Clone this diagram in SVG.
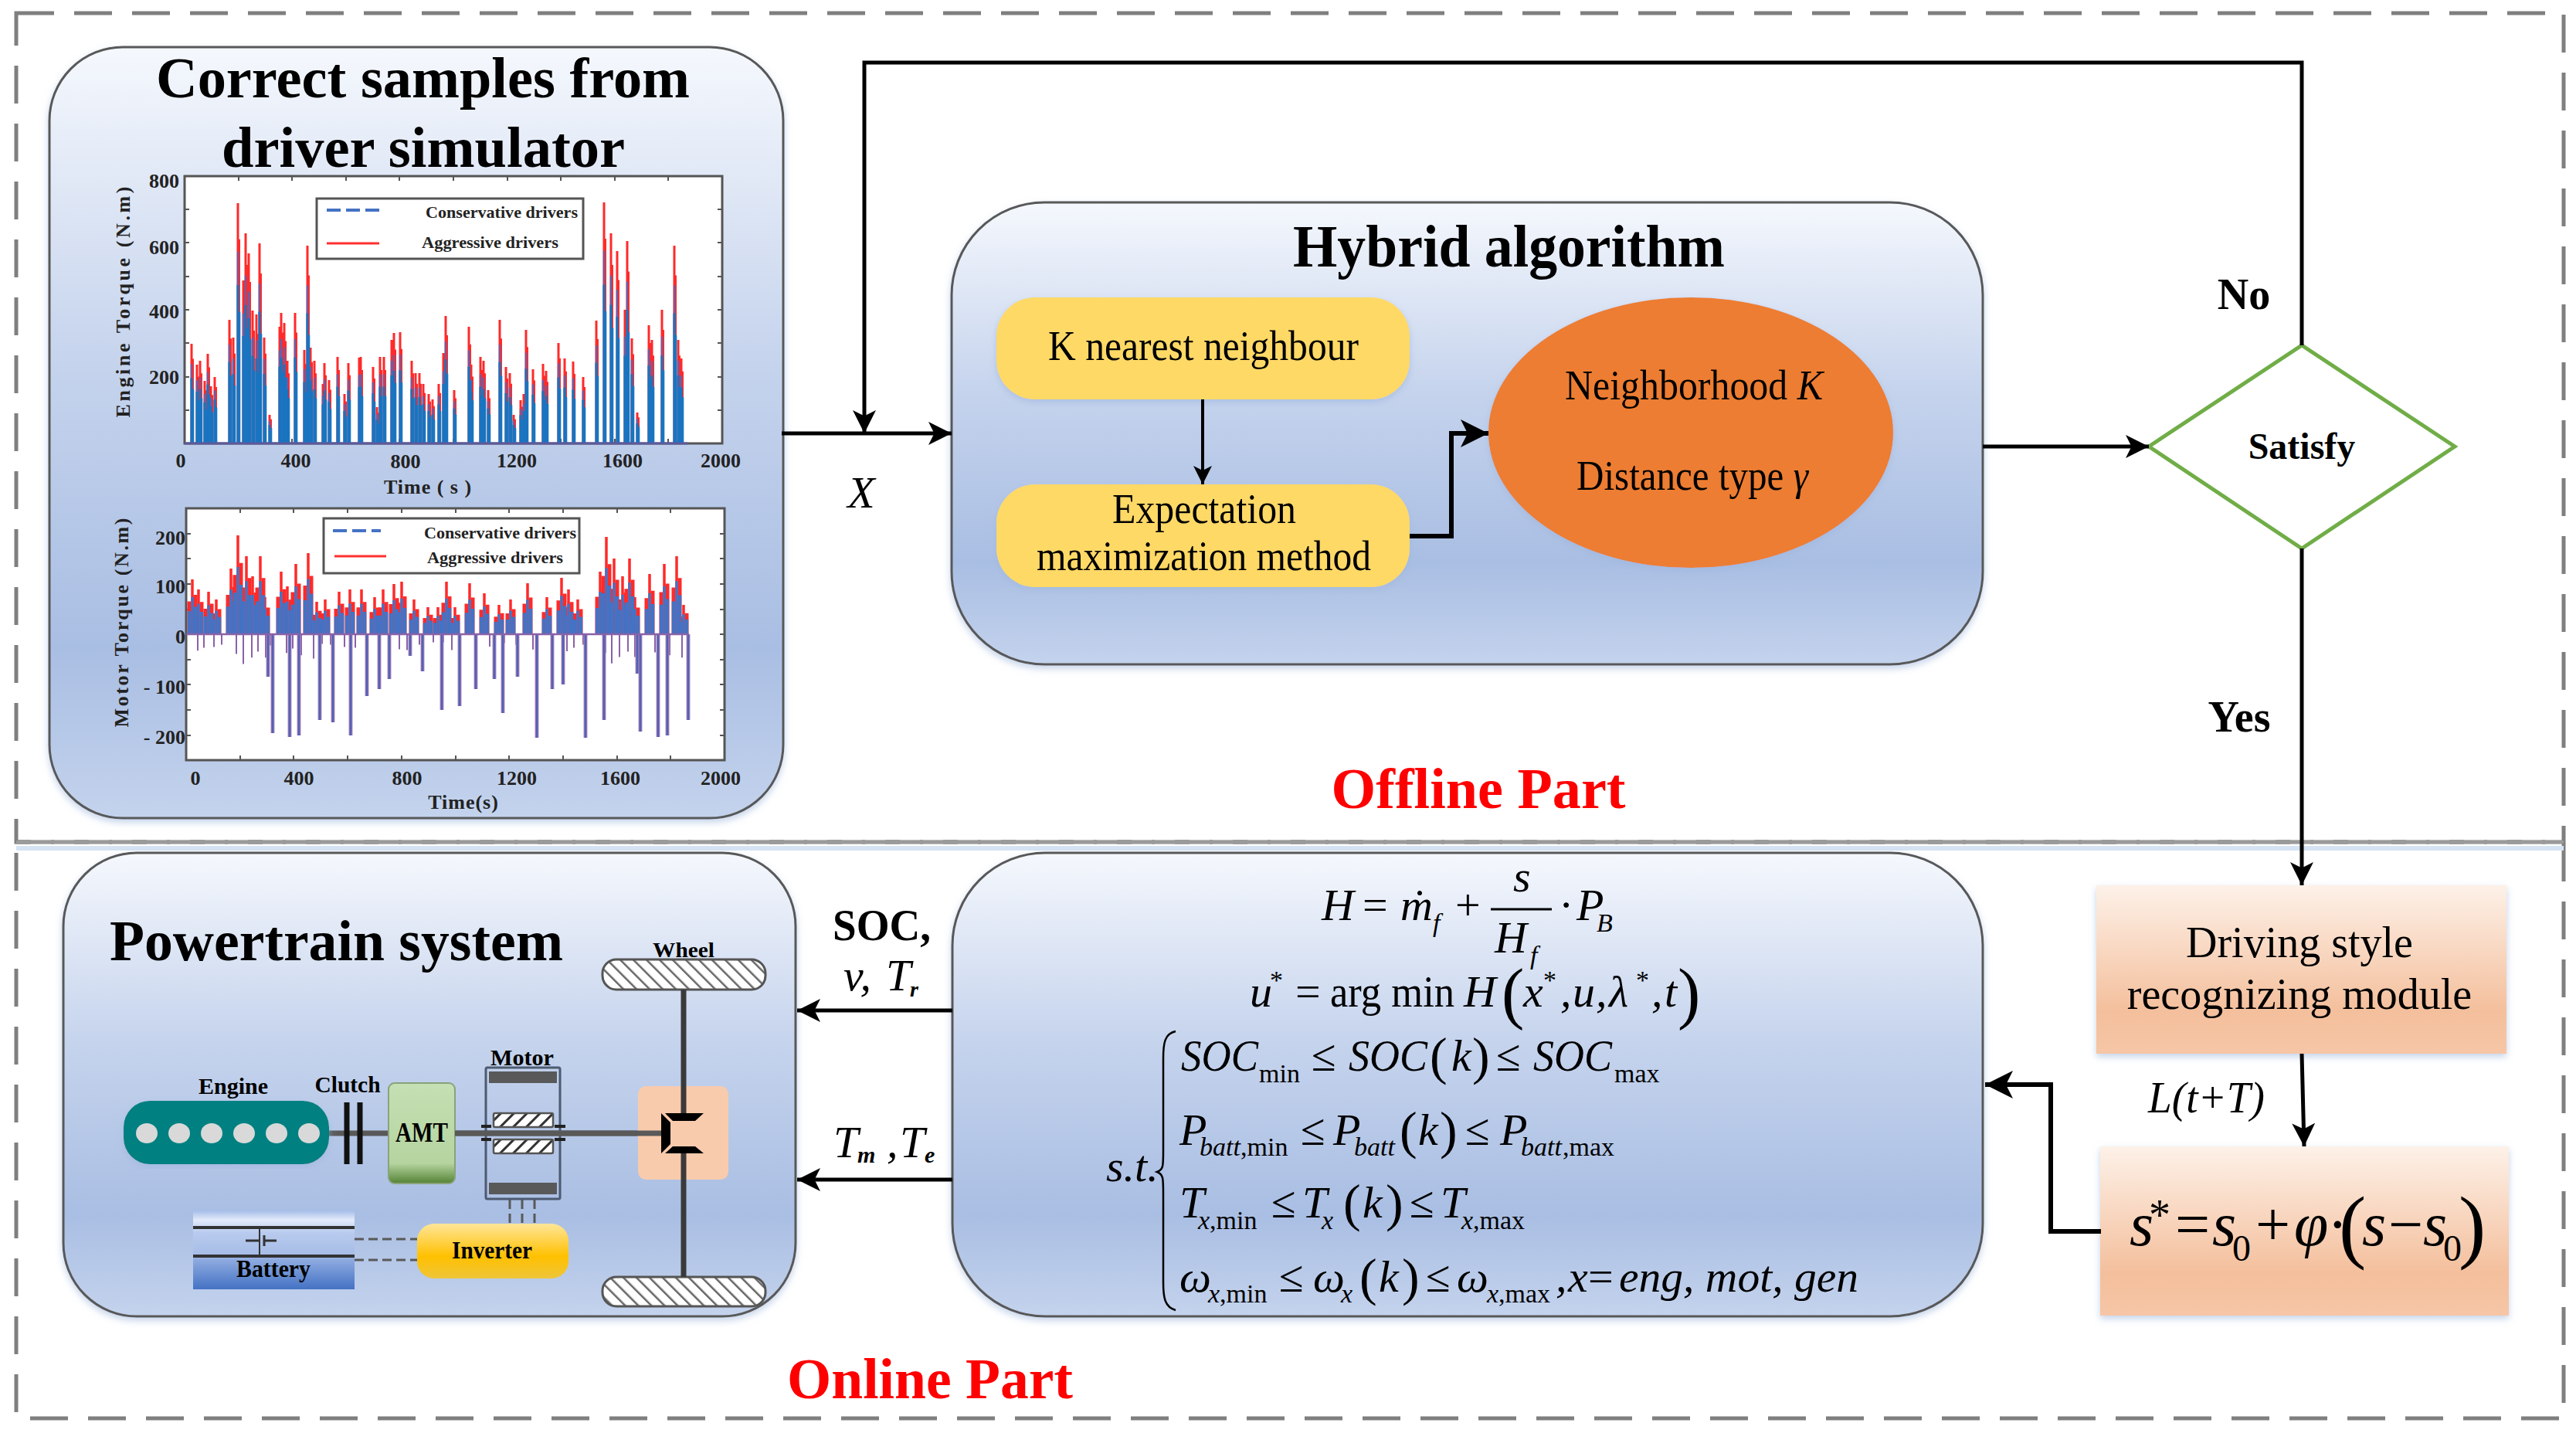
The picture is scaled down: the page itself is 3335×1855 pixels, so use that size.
<svg xmlns="http://www.w3.org/2000/svg" width="3335" height="1855" viewBox="0 0 3335 1855">
<style>
text{font-family:"Liberation Serif","Times New Roman",serif;fill:#000}
.b{font-weight:700}
.i{font-style:italic}
.panel{fill:url(#pg);stroke:#595959;stroke-width:3;filter:url(#sh)}
.ybox{fill:#ffd966;filter:url(#sh)}
.obox{fill:url(#og);filter:url(#sh)}
.frame{fill:none;stroke:#7f7f7f;stroke-width:5;stroke-dasharray:49 26}
.ln{fill:none;stroke:#000;stroke-width:5}
.ln2{fill:none;stroke:#000;stroke-width:6}
.plot{fill:#fff;stroke:#555;stroke-width:3}
.tick{fill:none;stroke:#555;stroke-width:2}
.leg{fill:#fff;stroke:#555;stroke-width:3}
.t{font-weight:700;font-size:26px;fill:#222}
.t text{fill:#222}
.lg{font-weight:700;font-size:22px;fill:#222}
.f{font-style:italic;font-size:58px}
.fu{font-size:58px}
.s{font-style:italic;font-size:34px}
.su{font-size:34px}
.p{font-size:88px}
.q{font-size:68px}
.wire{fill:none;stroke:#595959;stroke-width:3;stroke-dasharray:12 6}
.red{fill:none;stroke:#ff2a2a}
.blu{fill:none;stroke:#1a74c0}
.mbl{fill:none;stroke:#4472c4}
</style>
<defs>
<linearGradient id="pg" x1="0" y1="0" x2="0" y2="1"><stop offset="0" stop-color="#f5f8fd"/><stop offset=".4" stop-color="#c6d4ed"/><stop offset=".78" stop-color="#a9bee3"/><stop offset="1" stop-color="#c4d3ed"/></linearGradient>
<linearGradient id="og" x1="0" y1="0" x2="0" y2="1"><stop offset="0" stop-color="#fdf1e8"/><stop offset=".75" stop-color="#f4bf9c"/><stop offset="1" stop-color="#f6c6a6"/></linearGradient>
<linearGradient id="amt" x1="0" y1="0" x2="0" y2="1"><stop offset="0" stop-color="#c5e0b4"/><stop offset=".8" stop-color="#b5d49f"/><stop offset="1" stop-color="#548235"/></linearGradient>
<linearGradient id="inv" x1="0" y1="0" x2="0" y2="1"><stop offset="0" stop-color="#ffe699"/><stop offset=".6" stop-color="#ffc000"/><stop offset="1" stop-color="#eec53a"/></linearGradient>
<linearGradient id="bat" x1="0" y1="0" x2="0" y2="1"><stop offset="0" stop-color="#a5bde8"/><stop offset=".12" stop-color="#e3eafa"/><stop offset=".28" stop-color="#b9cbee"/><stop offset=".58" stop-color="#a5bce6"/><stop offset=".62" stop-color="#8fabe0"/><stop offset="1" stop-color="#4472c4"/></linearGradient>
<pattern id="h1" width="12" height="12" patternUnits="userSpaceOnUse" patternTransform="rotate(-45)"><rect width="12" height="12" fill="#fff"/><rect width="2.5" height="12" fill="#666"/></pattern>
<pattern id="h2" width="12" height="12" patternUnits="userSpaceOnUse" patternTransform="rotate(45)"><rect width="12" height="12" fill="#fff"/><rect width="3" height="12" fill="#333"/></pattern>
<filter id="sh" x="-5%" y="-5%" width="110%" height="112%"><feDropShadow dx="0" dy="4" stdDeviation="5" flood-color="#9db5dc" flood-opacity=".6"/></filter>
<marker id="a" viewBox="0 0 12 12" refX="12" refY="6" markerWidth="6" markerHeight="6" markerUnits="strokeWidth" orient="auto"><path d="M0 0L12 6L0 12L3 6Z" fill="#000"/></marker>
<path id="eng" d="M248 575V445M255 575V472M259 575V467M265 575V493M269 575V458M273 575V500M278 575V488M297 575V414M302 575V437M308 575V263M315 575V363M318 575V302M322 575V328M327 575V402M332 575V407M336 575V315M342 575V437M349 575V537M362 575V423M364 575V405M368 575V418M372 575V467M382 575V405M394 575V453M398 575V318M402 575V450M407 575V467M418 575V497M420 575V470M426 575V492M437 575V462M446 575V510M451 575V470M465 575V463M467 575V462M483 575V475M488 575V527M492 575V462M497 575V462M507 575V440M510 575V431M518 575V430M533 575V467M538 575V483M543 575V483M548 575V497M555 575V510M560 575V517M568 575V497M574 575V457M577 575V409M588 575V505M607 575V423M610 575V472M622 575V462M626 575V467M632 575V505M647 575V414M655 575V475M660 575V483M665 575V537M674 575V518M678 575V510M681 575V427M690 575V478M703 575V471M707 575V480M723 575V444M731 575V464M742 575V468M755 575V488M772 575V415M782 575V262M791 575V302M799 575V325M809 575V401M812 575V312M818 575V438M825 575V534M840 575V421M844 575V440M857 575V401M873 575V318M878 575V440M882 575V464"/>
<path id="mup" d="M249 821V750M257 821V763M270 821V766M280 821V776M299 821V736M308 821V693M319 821V720M327 821V746M337 821V720M343 821V773M364 821V740M372 821V759M383 821V730M399 821V716M410 821V779M421 821V776M439 821V766M453 821V763M468 821V763M485 821V773M496 821V763M510 821V756M520 821V753M536 821V776M554 821V786M567 821V786M578 821V753M589 821V786M608 821V755M627 821V768M646 821V783M661 821V776M683 821V755M708 821V773M727 821V748M736 821V763M748 821V776M777 821V740M785 821V695M795 821V723M806 821V746M815 821V723M822 821V773M841 821V743M860 821V730M876 821V720M885 821V783"/>
<path id="mdn" d="M347 821V876M353 821V949M375 821V954M387 821V952M414 821V932M431 821V935M454 821V952M475 821V901M491 821V892M504 821V879M531 821V849M547 821V869M572 821V919M595 821V914M616 821V892M640 821V879M651 821V923M670 821V876M695 821V955M715 821V892M729 821V886M758 821V955M782 821V932M825 821V872M829 821V947M852 821V954M864 821V952M891 821V932"/>
</defs>

<g id="frames">
<rect class="frame" x="21" y="17" width="3298" height="1073"/>
<rect class="frame" x="21" y="1090" width="3298" height="746"/>
<path d="M21 1090H3319" stroke="#9a9a9a" stroke-width="4" fill="none"/>
<path d="M21 1098H3319" stroke="#d5e3f3" stroke-width="6" fill="none"/>
</g>

<g id="samples">
<rect class="panel" x="64" y="61" width="950" height="998" rx="95" ry="95"/>
<text class="b" x="202" y="126" font-size="74" textLength="691" lengthAdjust="spacingAndGlyphs">Correct samples from</text>
<text class="b" x="287" y="216" font-size="74" textLength="522" lengthAdjust="spacingAndGlyphs">driver simulator</text>
<g id="chart-engine">
<rect class="plot" x="239" y="228" width="696" height="346"/>
<path class="tick" d="M309 228v6M378 228v6M448 228v6M517 228v6M587 228v6M657 228v6M726 228v6M796 228v6M865 228v6M239 271h6M239 314h6M239 358h6M239 401h6M239 444h6M239 488h6M239 531h6M935 271h-6M935 314h-6M935 358h-6M935 401h-6M935 444h-6M935 488h-6M935 531h-6M309 574v-6M378 574v-6M448 574v-6M517 574v-6M587 574v-6M657 574v-6M726 574v-6M796 574v-6M865 574v-6"/>
<use href="#eng" class="red" stroke-width="3"/>
<use href="#eng" class="red" stroke-width="2" transform="translate(2 575) scale(1 .85) translate(0 -575)"/>
<use href="#eng" fill="none" stroke="#6a5fa8" stroke-width="2.4" transform="translate(0 575) scale(1 .8) translate(0 -575)"/>
<use href="#eng" class="blu" stroke-width="3.2" transform="translate(0 575) scale(1 .66) translate(0 -575)"/>
<use href="#eng" class="blu" stroke-width="2.6" transform="translate(2 575) scale(1 .55) translate(0 -575)"/>
<path d="M239 574H890" stroke="#5d5a9c" stroke-width="3"/>
<rect class="leg" x="410" y="257" width="345" height="78"/>
<path d="M423 272H491" stroke="#4472c4" stroke-width="4" stroke-dasharray="18 7" fill="none"/>
<path d="M423 315H491" stroke="#ff3030" stroke-width="3" fill="none"/>
<text class="lg" x="551" y="282" textLength="197" lengthAdjust="spacingAndGlyphs">Conservative drivers</text>
<text class="lg" x="546" y="321" textLength="177" lengthAdjust="spacingAndGlyphs">Aggressive drivers</text>
<g class="t">
<text x="232" y="243" text-anchor="end">800</text><text x="232" y="329" text-anchor="end">600</text><text x="232" y="412" text-anchor="end">400</text><text x="232" y="497" text-anchor="end">200</text>
<text x="234" y="605" text-anchor="middle">0</text><text x="383" y="605" text-anchor="middle">400</text><text x="525" y="606" text-anchor="middle">800</text><text x="669" y="605" text-anchor="middle">1200</text><text x="806" y="605" text-anchor="middle">1600</text><text x="933" y="605" text-anchor="middle">2000</text>
<text x="554" y="639" text-anchor="middle" letter-spacing="1">Time ( s )</text>
<text x="168" y="391" text-anchor="middle" transform="rotate(-90 168 391)" textLength="299" lengthAdjust="spacing">Engine Torque (N.m)</text>
</g>
</g>
<g id="chart-motor">
<rect class="plot" x="241" y="658" width="697" height="326"/>
<path class="tick" d="M311 658v6M380 658v6M450 658v6M520 658v6M590 658v6M659 658v6M729 658v6M799 658v6M868 658v6M241 691h6M241 723h6M241 756h6M241 789h6M241 821h6M241 854h6M241 886h6M241 919h6M241 952h6M938 691h-6M938 723h-6M938 756h-6M938 789h-6M938 821h-6M938 854h-6M938 886h-6M938 919h-6M938 952h-6M311 984v-6M380 984v-6M450 984v-6M520 984v-6M590 984v-6M659 984v-6M729 984v-6M799 984v-6M868 984v-6"/>
<use href="#mup" class="red" stroke-width="3.5"/>
<use href="#mup" class="red" stroke-width="5" transform="translate(4 821) scale(1 .72) translate(0 -821)"/>
<use href="#mup" class="red" stroke-width="5" transform="translate(-4 821) scale(1 .6) translate(0 -821)"/>
<use href="#mup" class="mbl" stroke-width="3.5" transform="translate(0 821) scale(1 .68) translate(0 -821)"/>
<use href="#mup" class="mbl" stroke-width="4.5" transform="translate(4 821) scale(1 .5) translate(0 -821)"/>
<use href="#mup" class="mbl" stroke-width="4.5" transform="translate(-4 821) scale(1 .42) translate(0 -821)"/>
<use href="#mup" fill="none" stroke="#8a62a8" stroke-width="2" transform="translate(7 821) scale(1 -.3) translate(0 -821)"/>
<use href="#mdn" fill="none" stroke="#b88fb8" stroke-width="5"/>
<use href="#mdn" fill="none" stroke="#5560b5" stroke-width="3"/>
<path d="M241 821H892" stroke="#8a62a8" stroke-width="2.5"/>
<rect class="leg" x="419" y="671" width="331" height="71"/>
<path d="M431 687H493" stroke="#4472c4" stroke-width="4" stroke-dasharray="18 7" fill="none"/>
<path d="M433 720H500" stroke="#ff3030" stroke-width="3" fill="none"/>
<text class="lg" x="549" y="697" textLength="197" lengthAdjust="spacingAndGlyphs">Conservative drivers</text>
<text class="lg" x="553" y="729" textLength="176" lengthAdjust="spacingAndGlyphs">Aggressive drivers</text>
<g class="t">
<text x="240" y="705" text-anchor="end">200</text><text x="240" y="768" text-anchor="end">100</text><text x="240" y="833" text-anchor="end">0</text><text x="240" y="898" text-anchor="end" xml:space="preserve">- 100</text><text x="240" y="963" text-anchor="end" xml:space="preserve">- 200</text>
<text x="253" y="1016" text-anchor="middle">0</text><text x="387" y="1016" text-anchor="middle">400</text><text x="527" y="1016" text-anchor="middle">800</text><text x="669" y="1016" text-anchor="middle">1200</text><text x="803" y="1016" text-anchor="middle">1600</text><text x="933" y="1016" text-anchor="middle">2000</text>
<text x="600" y="1047" text-anchor="middle" letter-spacing="1">Time(s)</text>
<text x="166" y="806" text-anchor="middle" transform="rotate(-90 166 806)" textLength="271" lengthAdjust="spacing">Motor Torque (N.m)</text>
</g>
</g>
</g>

<g id="hybrid">
<rect class="panel" x="1232" y="262" width="1335" height="598" rx="120" ry="120"/>
<text class="b" x="1674" y="345" font-size="78" textLength="559" lengthAdjust="spacingAndGlyphs">Hybrid algorithm</text>
</g>
<g id="knn"><rect class="ybox" x="1290" y="385" width="535" height="132" rx="50"/><text x="1357" y="466" font-size="54" textLength="402" lengthAdjust="spacingAndGlyphs">K nearest neighbour</text></g>
<g id="em"><rect class="ybox" x="1290" y="627" width="535" height="133" rx="50"/><text x="1440" y="677" font-size="54" textLength="238" lengthAdjust="spacingAndGlyphs">Expectation</text><text x="1342" y="738" font-size="54" textLength="433" lengthAdjust="spacingAndGlyphs">maximization method</text></g>
<g id="params"><ellipse cx="2189" cy="560" rx="262" ry="175" fill="#ed7d31" filter="url(#sh)"/><text x="2026" y="517" font-size="54" textLength="334" lengthAdjust="spacingAndGlyphs">Neighborhood <tspan class="i">K</tspan></text><text x="2041" y="634" font-size="54" textLength="300" lengthAdjust="spacingAndGlyphs">Distance type <tspan class="i">γ</tspan></text></g>
<g id="satisfy"><path d="M2782 578L2980 447L3178 578L2980 710Z" fill="#fff" stroke="#70ad47" stroke-width="5"/><text class="b" x="2980" y="594" font-size="48" text-anchor="middle">Satisfy</text></g>
<g id="driving"><rect class="obox" x="2714" y="1146" width="531" height="218"/><text x="2977" y="1239" font-size="56" text-anchor="middle">Driving style</text><text x="2977" y="1306" font-size="56" text-anchor="middle">recognizing module</text></g>
<g id="update"><rect class="obox" x="2719" y="1484" width="529" height="219"/>
<text class="i" x="2757" y="1612" font-size="80">s</text><text x="2782" y="1592" font-size="56">*</text><text x="2816" y="1612" font-size="80">=</text><text class="i" x="2864" y="1612" font-size="80">s</text><text x="2890" y="1632" font-size="48">0</text><text x="2920" y="1612" font-size="80">+</text><text class="i" x="2970" y="1612" font-size="80">φ</text><text x="3013" y="1612" font-size="80">·</text><text x="3028" y="1622" font-size="106">(</text><text class="i" x="3058" y="1612" font-size="80">s</text><text x="3092" y="1612" font-size="80">−</text><text class="i" x="3137" y="1612" font-size="80">s</text><text x="3163" y="1632" font-size="48">0</text><text x="3183" y="1622" font-size="106">)</text>
</g>

<g id="powertrain">
<rect class="panel" x="82" y="1104" width="948" height="600" rx="95" ry="95"/>
<text class="b" x="142" y="1243" font-size="74" textLength="587" lengthAdjust="spacingAndGlyphs">Powertrain system</text>
</g>
<g id="wheels">
<rect x="780" y="1242" width="211" height="39" rx="18" fill="url(#h1)" stroke="#555" stroke-width="3"/>
<rect x="780" y="1653" width="211" height="38" rx="18" fill="url(#h1)" stroke="#555" stroke-width="3"/>
<text class="b" x="885" y="1239" font-size="28" text-anchor="middle" textLength="80" lengthAdjust="spacingAndGlyphs">Wheel</text>
</g>
<g id="shaft">
<rect x="826" y="1406" width="117" height="121" rx="10" fill="#f8cbad"/>
<path d="M426 1467H857" stroke="#595959" stroke-width="7" fill="none"/>
<path d="M885 1281V1442M885 1493V1653" stroke="#3a3a3a" stroke-width="7" fill="none"/>
<path d="M856 1441L868 1453V1481L856 1493Z M861 1441H911L900 1451H871Z M861 1493L871 1484H900L911 1493Z" fill="#000"/>
</g>
<g id="engine">
<rect x="160" y="1425" width="266" height="82" rx="34" fill="#008080" filter="url(#sh)"/>
<g fill="#d9d9d9"><ellipse cx="190" cy="1467" rx="14" ry="13"/><ellipse cx="232" cy="1467" rx="14" ry="13"/><ellipse cx="274" cy="1467" rx="14" ry="13"/><ellipse cx="316" cy="1467" rx="14" ry="13"/><ellipse cx="358" cy="1467" rx="14" ry="13"/><ellipse cx="400" cy="1467" rx="14" ry="13"/></g>
<text class="b" x="302" y="1416" font-size="30" text-anchor="middle" textLength="90" lengthAdjust="spacingAndGlyphs">Engine</text>
</g>
<g id="clutch"><path d="M449 1427V1507M466 1427V1507" stroke="#111" stroke-width="7" fill="none"/><text class="b" x="450" y="1414" font-size="30" text-anchor="middle" textLength="85" lengthAdjust="spacingAndGlyphs">Clutch</text></g>
<g id="amt-box"><rect x="503" y="1402" width="86" height="130" rx="8" fill="url(#amt)" stroke="#8aa27a" stroke-width="2"/><text class="b" x="546" y="1478" font-size="36" text-anchor="middle" textLength="68" lengthAdjust="spacingAndGlyphs">AMT</text></g>
<g id="motor">
<rect x="629" y="1382" width="96" height="170" rx="2" fill="none" stroke="#4d5a70" stroke-width="3"/>
<rect x="633" y="1387" width="88" height="15" fill="#595959"/><rect x="633" y="1531" width="88" height="15" fill="#595959"/>
<rect x="639" y="1441" width="77" height="18" rx="2" fill="url(#h2)" stroke="#555" stroke-width="2.5"/><rect x="639" y="1475" width="77" height="18" rx="2" fill="url(#h2)" stroke="#555" stroke-width="2.5"/>
<path d="M623 1458H636M718 1458H732M623 1475H636M718 1475H732" stroke="#222" stroke-width="4" fill="none"/>
<path d="M589 1467H825" stroke="#595959" stroke-width="7" fill="none"/>
<text class="b" x="676" y="1379" font-size="30" text-anchor="middle" textLength="82" lengthAdjust="spacingAndGlyphs">Motor</text>
</g>
<g id="battery">
<rect x="250" y="1567" width="209" height="102" fill="url(#bat)"/>
<path d="M250 1589H459M250 1626H459" stroke="#333" stroke-width="4" fill="none"/>
<path d="M336 1589V1626" stroke="#333" stroke-width="2" fill="none"/>
<path d="M318 1606H336M342 1606H358M342 1599V1613" stroke="#333" stroke-width="3" fill="none"/>
<text class="b" x="354" y="1653" font-size="31" text-anchor="middle" textLength="96" lengthAdjust="spacingAndGlyphs">Battery</text>
</g>
<g id="inverter"><rect x="540" y="1584" width="196" height="71" rx="22" fill="url(#inv)"/><text class="b" x="637" y="1629" font-size="32" text-anchor="middle" textLength="104" lengthAdjust="spacingAndGlyphs">Inverter</text></g>
<g id="wires"><path class="wire" d="M660 1553V1584M676 1553V1584M692 1553V1584M459 1604H540M459 1631H540"/></g>

<g id="optimizer">
<rect class="panel" x="1233" y="1104" width="1334" height="600" rx="120" ry="120"/>
<text class="f" x="1711" y="1191">H</text><text class="fu" x="1764" y="1191">=</text><text class="f" x="1813" y="1191">ṁ</text><text class="s" x="1855" y="1206">f</text><text class="fu" x="1884" y="1191">+</text><text class="f" x="1959" y="1154">s</text><path d="M1930 1177H2009" stroke="#000" stroke-width="3" fill="none"/><text class="f" x="1935" y="1233">H</text><text class="s" x="1981" y="1248">f</text><text class="fu" x="2018" y="1191">·</text><text class="f" x="2041" y="1191">P</text><text class="s" x="2067" y="1206">B</text>
<text class="f" x="1618" y="1303">u</text><text class="su" x="1644" y="1280">*</text><text class="fu" x="1677" y="1303">=</text><text class="fu" x="1722" y="1303" textLength="161" lengthAdjust="spacingAndGlyphs">arg min</text><text class="f" x="1895" y="1303">H</text><text class="p" x="1944" y="1315">(</text><text class="f" x="1972" y="1303">x</text><text class="su" x="1998" y="1280">*</text><text class="f" x="2020" y="1303">,</text><text class="f" x="2036" y="1303">u</text><text class="f" x="2066" y="1303">,</text><text class="f" x="2083" y="1303">λ</text><text class="su" x="2118" y="1280">*</text><text class="f" x="2138" y="1303">,</text><text class="f" x="2155" y="1303">t</text><text class="p" x="2172" y="1315">)</text>
<text class="f" x="1529" y="1386" textLength="100" lengthAdjust="spacingAndGlyphs">SOC</text><text class="su" x="1630" y="1401">min</text><text class="fu" x="1698" y="1386">≤</text><text class="f" x="1746" y="1386" textLength="102" lengthAdjust="spacingAndGlyphs">SOC</text><text class="q" x="1851" y="1390">(</text><text class="f" x="1879" y="1386">k</text><text class="q" x="1906" y="1390">)</text><text class="fu" x="1937" y="1386">≤</text><text class="f" x="1985" y="1386" textLength="102" lengthAdjust="spacingAndGlyphs">SOC</text><text class="su" x="2090" y="1401">max</text>
<text class="f" x="1527" y="1482">P</text><text class="s" x="1553" y="1496">batt</text><text class="su" x="1606" y="1496">,min</text><text class="fu" x="1684" y="1482">≤</text><text class="f" x="1726" y="1482">P</text><text class="s" x="1753" y="1496">batt</text><text class="q" x="1812" y="1486">(</text><text class="f" x="1836" y="1482">k</text><text class="q" x="1864" y="1486">)</text><text class="fu" x="1897" y="1482">≤</text><text class="f" x="1942" y="1482">P</text><text class="s" x="1969" y="1496">batt</text><text class="su" x="2023" y="1496">,max</text>
<text class="f" x="1527" y="1576">T</text><text class="s" x="1551" y="1591">x</text><text class="su" x="1566" y="1591">,min</text><text class="fu" x="1646" y="1576">≤</text><text class="f" x="1686" y="1576">T</text><text class="s" x="1711" y="1591">x</text><text class="q" x="1739" y="1580">(</text><text class="f" x="1764" y="1576">k</text><text class="q" x="1794" y="1580">)</text><text class="fu" x="1825" y="1576">≤</text><text class="f" x="1865" y="1576">T</text><text class="s" x="1892" y="1591">x</text><text class="su" x="1907" y="1591">,max</text>
<text class="f" x="1527" y="1672">ω</text><text class="s" x="1564" y="1686">x</text><text class="su" x="1579" y="1686">,min</text><text class="fu" x="1656" y="1672">≤</text><text class="f" x="1700" y="1672">ω</text><text class="s" x="1736" y="1686">x</text><text class="q" x="1760" y="1676">(</text><text class="f" x="1785" y="1672">k</text><text class="q" x="1815" y="1676">)</text><text class="fu" x="1846" y="1672">≤</text><text class="f" x="1886" y="1672">ω</text><text class="s" x="1925" y="1686">x</text><text class="su" x="1940" y="1686">,max</text><text class="f" x="2014" y="1672">,</text><text class="f" x="2030" y="1672">x</text><text class="fu" x="2056" y="1672">=</text><text class="f" x="2096" y="1672" textLength="310" lengthAdjust="spacingAndGlyphs">eng, mot, gen</text>
<text class="f" x="1432" y="1529">s.t.</text>
<path d="M1522 1335C1508 1338 1506 1350 1506 1370V1490C1506 1510 1506 1514 1498 1517C1506 1520 1506 1525 1506 1545V1660C1506 1680 1508 1692 1522 1696" fill="none" stroke="#000" stroke-width="2.5"/>
</g>

<g id="connectors">
<path class="ln" d="M2980 447V81H1119V561" marker-end="url(#a)"/>
<path class="ln" d="M1012 561H1232" marker-end="url(#a)"/>
<path class="ln" d="M1557 517V627" marker-end="url(#a)" style="stroke-width:4"/>
<path class="ln2" d="M1825 694H1879V561H1927" marker-end="url(#a)"/>
<path class="ln" d="M2567 578H2782" marker-end="url(#a)"/>
<path class="ln" d="M2980 710V1146" marker-end="url(#a)"/>
<path class="ln" d="M2980 1364L2983 1484" marker-end="url(#a)"/>
<path class="ln2" d="M2720 1594H2655V1404H2570" marker-end="url(#a)"/>
<path class="ln" d="M1233 1308H1032" marker-end="url(#a)"/>
<path class="ln" d="M1233 1527H1032" marker-end="url(#a)"/>
</g>

<g id="labels">
<text class="i" x="1115" y="657" font-size="58" text-anchor="middle">X</text>
<text class="b" x="2905" y="400" font-size="56" text-anchor="middle">No</text>
<text class="b" x="2899" y="947" font-size="56" text-anchor="middle">Yes</text>
<text class="b" x="1914" y="1046" font-size="74" style="fill:#ff0000" text-anchor="middle" textLength="381" lengthAdjust="spacingAndGlyphs">Offline Part</text>
<text class="b" x="1204" y="1810" font-size="74" style="fill:#ff0000" text-anchor="middle" textLength="370" lengthAdjust="spacingAndGlyphs">Online Part</text>
<text class="b" x="1078" y="1217" font-size="58" textLength="127" lengthAdjust="spacingAndGlyphs">SOC,</text>
<text class="i" x="1092" y="1282" font-size="58">v,</text>
<text class="i" x="1147" y="1282" font-size="58">T</text>
<text class="i b" x="1178" y="1290" font-size="28">r</text>
<text class="i" x="1079" y="1498" font-size="58">T</text>
<text class="i b" x="1110" y="1505" font-size="30">m</text>
<text class="i" x="1148" y="1498" font-size="58">,</text>
<text class="i" x="1165" y="1498" font-size="58">T</text>
<text class="i b" x="1197" y="1505" font-size="30">e</text>
<text class="i" x="2781" y="1440" font-size="56" textLength="151" lengthAdjust="spacingAndGlyphs">L(t+T)</text>
</g>
</svg>
